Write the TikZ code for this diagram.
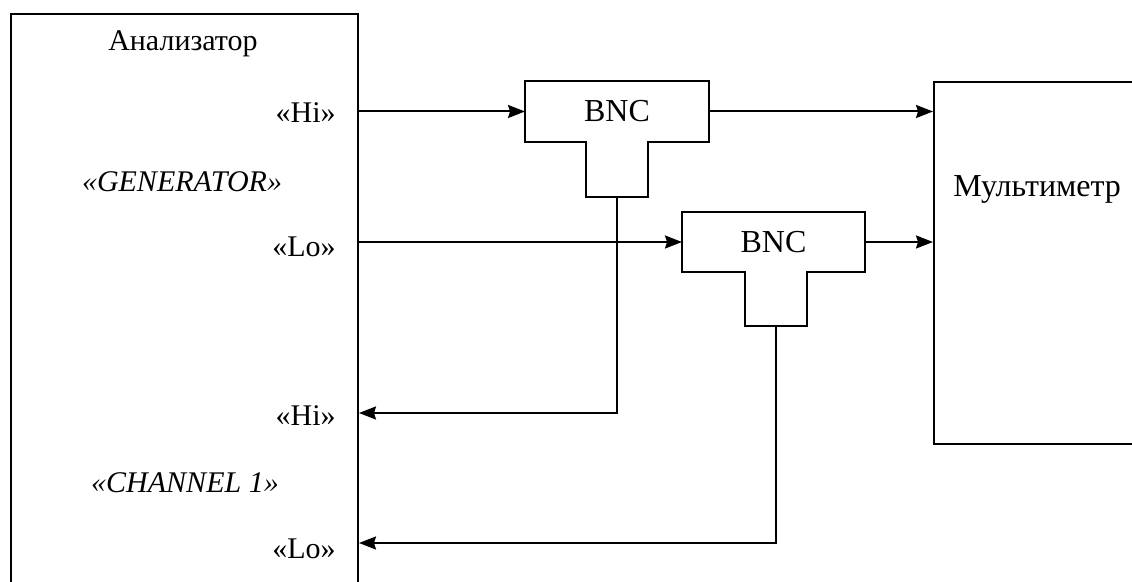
\documentclass[tikz,border=0pt]{standalone}
\usepackage{fontspec}
\setmainfont{Liberation Serif}
\usetikzlibrary{arrows.meta,positioning}
\tikzset{every node/.append style={align=center}}

\begin{document}
\begin{tikzpicture}[
    x=0.5pt, y=-0.5pt,
    font=\fontsize{15}{18}\selectfont,
    box/.style={draw, line width=1pt, inner sep=0pt, anchor=north west},
    part/.style={inner sep=0pt, outer sep=0pt, anchor=north west, font=\fontsize{16}{19}\selectfont},
    port/.style={anchor=east, inner sep=0pt},
    arrow/.style={-{Stealth[length=8.5pt, width=6.5pt, inset=1pt]}, line width=1pt},
    wire/.style={line width=1pt, line join=miter}
]
    \useasboundingbox (0,0) rectangle (1132,582);

    % Devices
    \node[box, minimum width=173.5pt, minimum height=320pt] (analyzer) at (10,13) {};
    \node[box, minimum width=110pt, minimum height=181pt] (multimeter) at (933,81) {};
    \node (analyzertitle) at (183,44) {Анализатор};
    \node[anchor=west, inner sep=0pt, font=\fontsize{16}{19}\selectfont] (multimetertitle) at (953,189) {Мультиметр};

    % Ports of the analyzer
    \node[port] (genhi) at (336,113) {«Hi»};
    \node[font=\fontsize{15}{18}\selectfont\itshape] (gen) at (182,182) {«GENERATOR»};
    \node[port] (genlo) at (336,247) {«Lo»};
    \node[port] (chhi) at (336,416) {«Hi»};
    \node[font=\fontsize{15}{18}\selectfont\itshape] (ch) at (185,483) {«CHANNEL 1»};
    \node[port] (chlo) at (336,549) {«Lo»};

    % BNC tees
    \node[part, minimum width=92pt, minimum height=30.5pt] (bncA) at (525,81) {BNC};
    \node[part, minimum width=31pt, minimum height=27.5pt] (bncAstem) at (586,142) {};
    \node[part, minimum width=91.5pt, minimum height=30pt] (bncB) at (682,212) {BNC};
    \node[part, minimum width=31pt, minimum height=27pt] (bncBstem) at (745,272) {};
    \foreach \t/\s in {bncA/bncAstem, bncB/bncBstem}
        \draw[wire] (\t.north west) -- (\t.north east) -- (\t.south east) -- (\s.north east)
            -- (\s.south east) -- (\s.south west) -- (\s.north west) -- (\t.south west) -- cycle;

    % Connections
    \draw[arrow] (analyzer.east |- bncA.west) -- (bncA.west);
    \draw[arrow] (analyzer.east |- bncB.west) -- (bncB.west);
    \draw[arrow] (bncA.east) -- (bncA.east -| multimeter.west);
    \draw[arrow] (bncB.east) -- (bncB.east -| multimeter.west);
    \draw[arrow] (bncAstem.south) |- ([yshift=1.5pt]chhi.east -| analyzer.east);
    \draw[arrow] (bncBstem.south) |- ([yshift=3pt]chlo.east -| analyzer.east);

\end{tikzpicture}
\end{document}
